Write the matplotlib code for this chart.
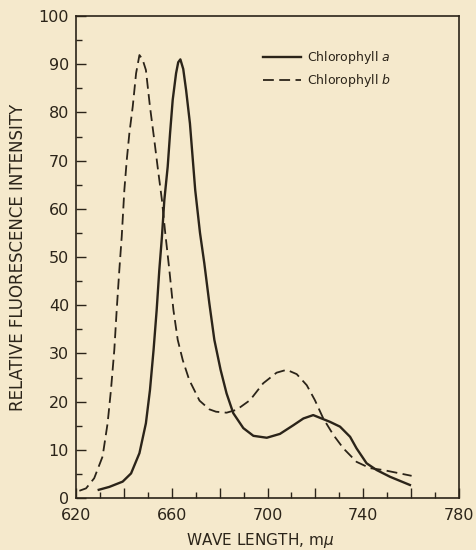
import matplotlib
matplotlib.use('Agg')
import matplotlib.pyplot as plt
from matplotlib.ticker import MultipleLocator

# Chlorophyll a (solid curve)
wave_a = [629.5, 633.9, 639.5, 643.0, 646.5, 649.2, 650.9, 652.4, 653.7, 654.8,
          655.9, 656.9, 658.3, 659.3, 660.4, 661.8, 662.7, 663.6, 664.8, 666.0,
          667.6, 668.7, 669.8, 671.8, 673.6, 675.7, 677.8, 680.4, 682.9, 685.7,
          689.9, 694.1, 699.7, 705.2, 710.8, 715.0, 719.1, 722.6, 726.1, 730.3,
          734.5, 737.2, 741.4, 745.6, 751.2, 759.5]
chl_a = [1.7, 2.3, 3.4, 5.1, 9.3, 15.5, 22.4, 30.7, 39.0, 47.3,
         54.2, 61.8, 68.7, 75.7, 82.6, 88.1, 90.4, 91.0, 89.0, 84.6,
         77.7, 70.8, 63.9, 55.0, 48.7, 40.4, 32.8, 26.6, 21.7, 17.6,
         14.5, 12.9, 12.5, 13.3, 15.1, 16.5, 17.2, 16.5, 15.8, 14.8,
         12.7, 10.3, 7.2, 5.8, 4.4, 2.7]

# Chlorophyll b (dashed curve)
wave_b = [621.4, 624.2, 627.6, 631.1, 633.2, 634.6, 636.0, 637.0, 638.1, 639.1,
          640.2, 641.2, 642.3, 643.7, 645.1, 646.5, 647.8, 649.2, 650.9, 652.7,
          654.1, 655.9, 657.3, 659.0, 660.7, 662.5, 664.6, 667.3, 671.6, 675.7,
          678.5, 682.9, 687.1, 692.7, 698.2, 703.8, 708.0, 712.2, 716.4, 719.8,
          723.3, 727.5, 731.7, 737.2, 742.8, 748.4, 755.3, 760.2]
chl_b = [1.5, 2.0, 4.1, 8.6, 15.5, 22.4, 30.7, 39.0, 47.3, 54.2,
         63.9, 70.1, 75.7, 81.2, 88.1, 91.9, 91.0, 88.8, 81.2, 74.3,
         68.7, 61.8, 54.9, 47.3, 39.0, 32.8, 28.6, 24.5, 20.2, 18.4,
         17.9, 17.7, 18.3, 20.3, 23.8, 26.0, 26.6, 25.7, 23.4, 20.3,
         16.5, 13.1, 10.3, 7.5, 6.2, 5.8, 5.1, 4.6]

bg = '#f5e9cc'
ink = '#2b2419'

plt.rcParams['font.family'] = 'DejaVu Sans'

fig = plt.figure(figsize=(4.77, 5.5), dpi=100, facecolor=bg)
ax = fig.add_axes([76 / 477, 1 - 498 / 550, 383 / 477, 482 / 550])
ax.set_facecolor(bg)

ax.plot(wave_a, chl_a, color=ink, lw=1.7, label='Chlorophyll $\\it{a}$')
ax.plot(wave_b, chl_b, color=ink, lw=1.3, dashes=(6, 3), label='Chlorophyll $\\it{b}$')

ax.set_xlim(620, 780)
ax.set_ylim(0, 100)
ax.xaxis.set_minor_locator(MultipleLocator(10))
ax.yaxis.set_major_locator(MultipleLocator(10))
ax.yaxis.set_minor_locator(MultipleLocator(5))
ax.set_xticks([620, 640, 660, 680, 700, 720, 740, 760, 780])
ax.set_xticklabels(['620', '', '660', '', '700', '', '740', '', '780'])

ax.tick_params(which='major', direction='in', length=7, width=1, color=ink,
               labelcolor=ink, labelsize=11.5, pad=5)
ax.tick_params(axis='x', which='major', pad=7)
ax.tick_params(which='minor', direction='in', length=4, width=1, color=ink)
for s in ax.spines.values():
    s.set_color(ink)
    s.set_linewidth(1.2)

ax.set_xlabel('WAVE LENGTH, m$\\mu$', color=ink, fontsize=11)
ax.xaxis.set_label_coords(0.48, -0.068)
ax.set_ylabel('RELATIVE FLUORESCENCE INTENSITY', color=ink, fontsize=12, labelpad=8)

ax.legend(loc='upper left', bbox_to_anchor=(0.46, 0.955), frameon=False,
          fontsize=9, handlelength=3.0, handletextpad=0.5, labelspacing=0.5,
          labelcolor=ink)

fig.savefig('out.png', dpi=100, facecolor=bg)
